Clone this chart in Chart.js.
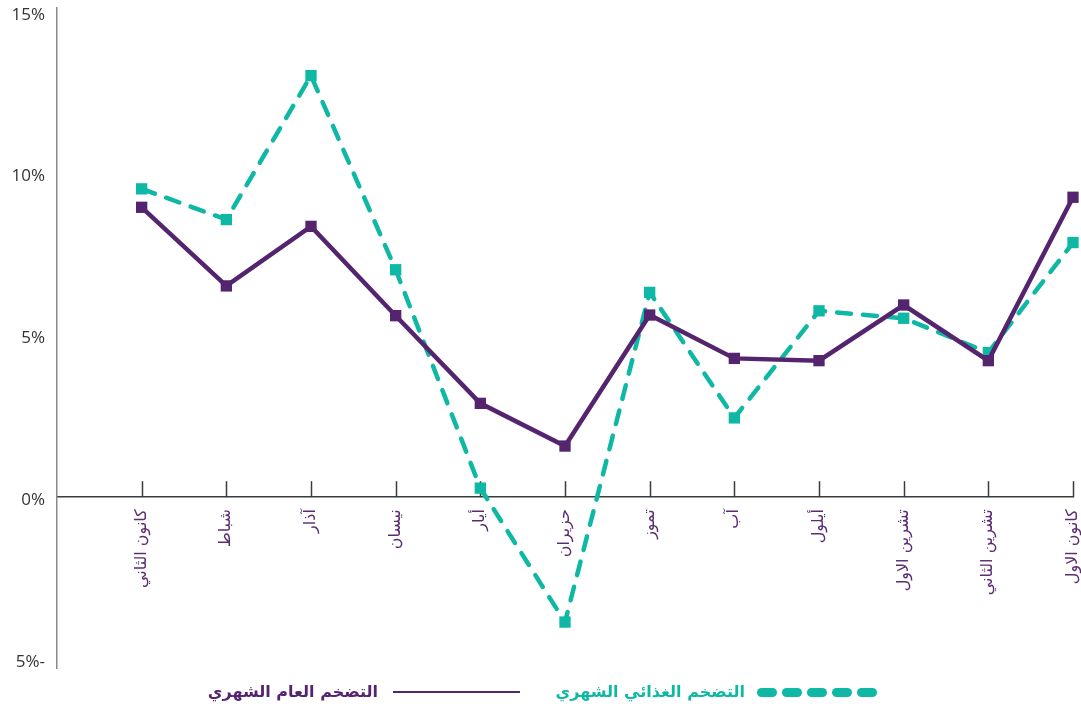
<!DOCTYPE html>
<html>
<head>
<meta charset="utf-8">
<script src="https://cdn.jsdelivr.net/npm/chart.js@4/dist/chart.umd.min.js"></script>
<style>
  html, body { margin: 0; padding: 0; background: #ffffff; }
  #wrap { position: relative; width: 1081px; height: 704px; }
  #c { position: absolute; left: 0; top: 0; }
  .lg-text { position: absolute; top: 680px; font-family: "DejaVu Sans", "Noto Sans", sans-serif; font-weight: bold; font-size: 16px; direction: rtl; white-space: nowrap; line-height: 24px; }
  .dash { position: absolute; top: 688px; width: 20px; height: 9px; border-radius: 5px; background: #0fb8a4; }
  .solid { position: absolute; top: 691px; height: 2px; background: #55246e; }
</style>
</head>
<body>
<div id="wrap">
  <canvas id="c" width="1081" height="704"></canvas>
  <div class="lg-text" style="right:336px; color:#0fb8a4;">التضخم الغذائي الشهري</div>
  <div class="dash" style="left:757px"></div>
  <div class="dash" style="left:782px"></div>
  <div class="dash" style="left:807px"></div>
  <div class="dash" style="left:832px"></div>
  <div class="dash" style="left:857px"></div>
  <div class="lg-text" style="right:703px; color:#55246e;">التضخم العام الشهري</div>
  <div class="solid" style="left:393px; width:127px;"></div>
</div>
<script>
const months = ['كانون الثاني','شباط','آذار','نيسان','أيار','حزيران','تموز','آب','أيلول','تشرين الاول','تشرين الثاني','كانون الاول'];
const generalInflation = [8.96, 6.53, 8.37, 5.61, 2.90, 1.58, 5.63, 4.29, 4.22, 5.94, 4.22, 9.27];
const foodInflation = [9.53, 8.58, 13.03, 7.03, 0.28, -3.86, 6.33, 2.45, 5.76, 5.53, 4.47, 7.87];
const yTickValues = [-5, 0, 5, 10, 15];
const yTickLabels = ['5%-', '0%', '5%', '10%', '15%'];

const PURPLE = '#55246e';
const TEAL = '#0fb8a4';

const toPoints = arr => arr.map((v, i) => ({ x: i + 1, y: v }));

const tickMarks = {
  id: 'tickMarks',
  beforeDatasetsDraw(chart) {
    const xs = chart.scales.x, ys = chart.scales.y;
    const ctx = chart.ctx;
    const y0 = ys.getPixelForValue(0);
    ctx.save();
    ctx.strokeStyle = '#3c3c3c';
    ctx.lineWidth = 1.5;
    months.forEach((m, i) => {
      const px = Math.round(xs.getPixelForValue(i + 1)) + 0.5;
      ctx.beginPath();
      ctx.moveTo(px, y0 - 16);
      ctx.lineTo(px, y0);
      ctx.stroke();
    });
    ctx.restore();
  }
};

new Chart(document.getElementById('c'), {
  type: 'line',
  data: {
    datasets: [
      {
        label: 'التضخم العام الشهري',
        data: toPoints(generalInflation),
        borderColor: PURPLE,
        backgroundColor: PURPLE,
        borderWidth: 4.5,
        tension: 0,
        pointStyle: 'rect',
        pointRadius: 8,
        pointBorderWidth: 0,
        pointBackgroundColor: PURPLE,
        clip: false
      },
      {
        label: 'التضخم الغذائي الشهري',
        data: toPoints(foodInflation),
        borderColor: TEAL,
        backgroundColor: TEAL,
        borderWidth: 4.5,
        borderDash: [14, 12],
        borderCapStyle: 'round',
        tension: 0,
        pointStyle: 'rect',
        pointRadius: 8,
        pointBorderWidth: 0,
        pointBackgroundColor: TEAL,
        clip: false
      }
    ]
  },
  options: {
    responsive: false,
    animation: false,
    devicePixelRatio: 1,
    layout: { padding: { left: 0, right: 5, top: 8, bottom: 36 } },
    plugins: { legend: { display: false }, tooltip: { enabled: false } },
    scales: {
      x: {
        type: 'linear',
        min: 0,
        max: 12,
        position: { y: 0 },
        afterBuildTicks: s => { s.ticks = months.map((m, i) => ({ value: i + 1 })); },
        afterFit: s => { s.paddingLeft = 0; s.paddingRight = 0; },
        grid: { display: false, drawTicks: false },
        border: { display: true, color: '#3c3c3c', width: 1.5 },
        ticks: {
          autoSkip: false,
          maxRotation: 90,
          minRotation: 90,
          padding: 12,
          color: '#5a2d72',
          font: { family: "'DejaVu Sans', 'Noto Sans', sans-serif", size: 16 },
          callback: v => months[v - 1]
        }
      },
      y: {
        type: 'linear',
        min: -5.28,
        max: 15.12,
        afterBuildTicks: s => { s.ticks = yTickValues.map(v => ({ value: v })); },
        afterFit: s => { s.width = 57; s.paddingTop = 0; s.paddingBottom = 0; },
        grid: { display: false, drawTicks: false },
        border: { display: true, color: '#8a8a8a', width: 1.5 },
        ticks: {
          padding: 12,
          labelOffset: 3,
          color: '#333333',
          font: { family: "'Open Sans', sans-serif", size: 17 },
          callback: v => yTickLabels[yTickValues.indexOf(v)]
        }
      }
    }
  },
  plugins: [tickMarks]
});
</script>
</body>
</html>
